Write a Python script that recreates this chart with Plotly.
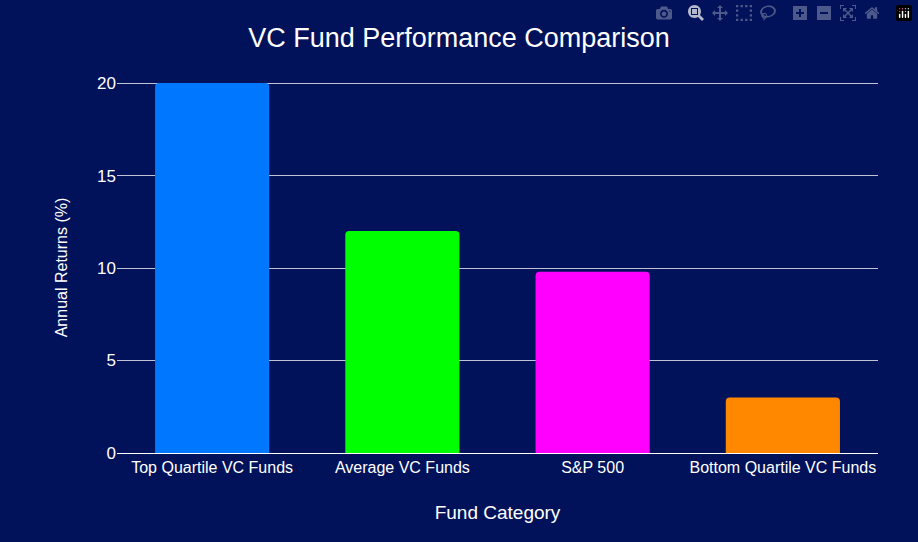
import plotly.graph_objects as go

categories = ["Top Quartile VC Funds", "Average VC Funds", "S&P 500", "Bottom Quartile VC Funds"]
returns = [20, 12, 9.8, 3]
colors = ["#0077FF", "#00FF00", "#FF00FF", "#FF8800"]

fig = go.Figure(go.Bar(x=categories, y=returns, marker=dict(color=colors, line=dict(width=0)), width=0.6))
fig.update_layout(
    width=918, height=542,
    paper_bgcolor="#02125A", plot_bgcolor="#02125A",
    font=dict(family="Liberation Sans, Arial, sans-serif", color="white", size=16),
    title=dict(text="VC Fund Performance Comparison", x=0.5, y=0.93, yanchor="middle", xanchor="center", font=dict(size=27, color="white")),
    margin=dict(l=117, r=40, t=82, b=89),
    barcornerradius=4,
    showlegend=False,
    xaxis=dict(title=dict(text="Fund Category", standoff=30), showgrid=False, zeroline=False, showline=True, linecolor="white", linewidth=1,
               tickfont=dict(size=16)),
    yaxis=dict(title=dict(text="Annual Returns (%)", standoff=25, font=dict(size=16)), range=[0, 20.06], tickvals=[0, 5, 10, 15, 20],
               gridcolor="rgba(255,255,255,0.75)", gridwidth=1, zeroline=False, tickfont=dict(size=17)),
)
fig.write_html("out.html", post_script="document.body.style.margin='0';document.body.style.background='#02125A';")
